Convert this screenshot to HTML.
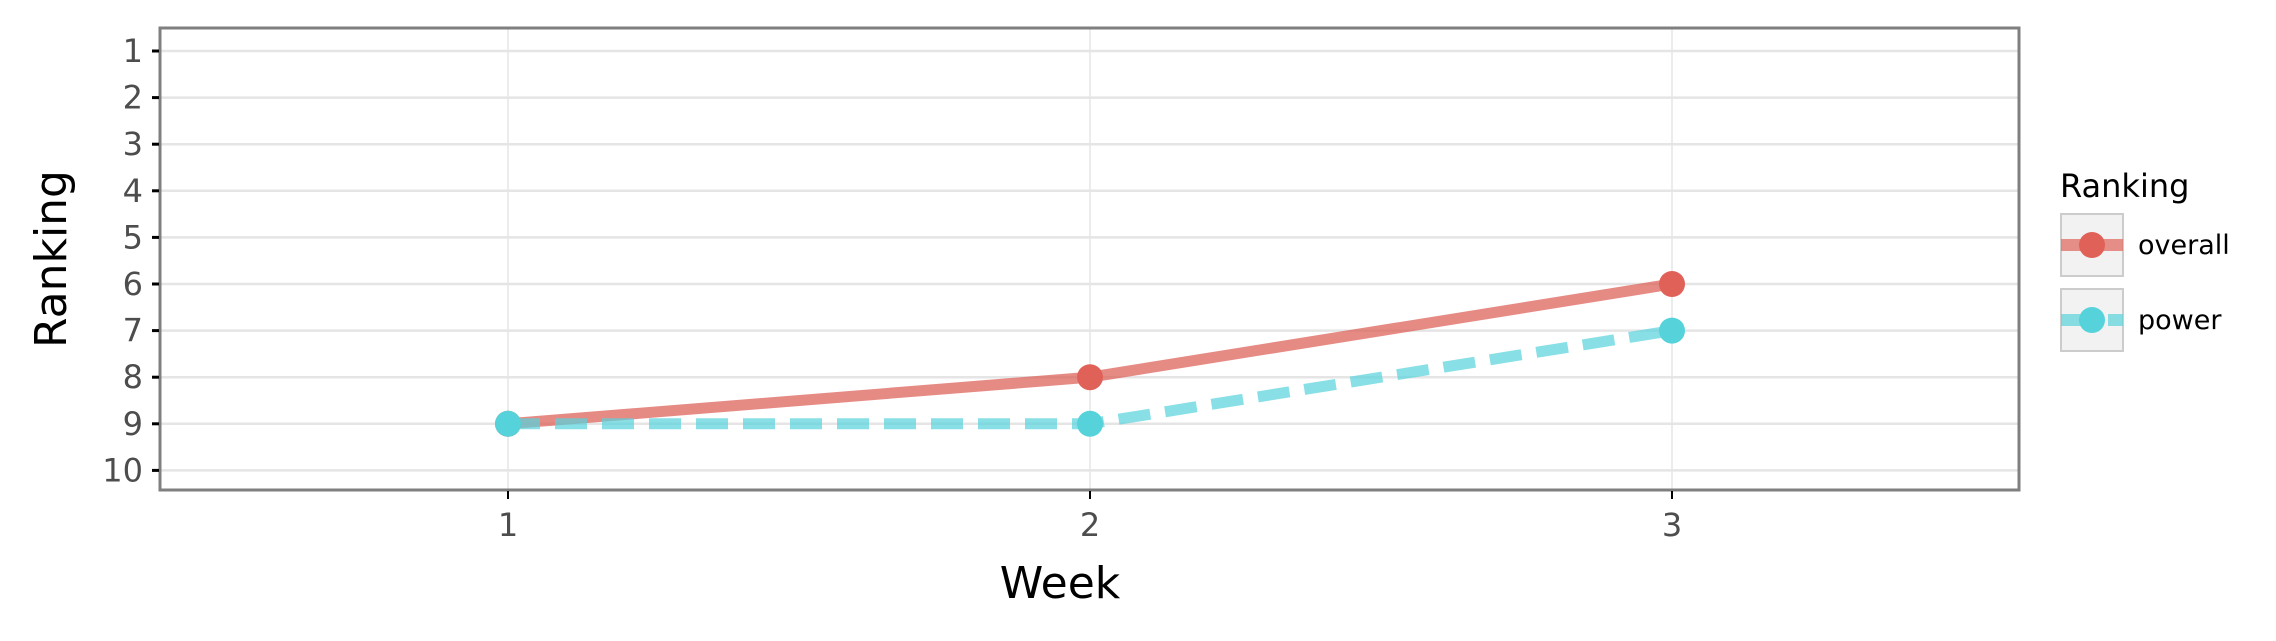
<!DOCTYPE html>
<html><head><meta charset="utf-8"><style>
html,body{margin:0;padding:0;background:#fff}
svg{display:block;font-family:"DejaVu Sans","Liberation Sans",sans-serif}
</style></head><body>
<svg id="chart" width="2276" height="641" viewBox="0 0 2276 641">
<rect width="2276" height="641" fill="#fff"/>
<g id="grid"></g>
<g id="series"></g>
<rect x="160" y="28" width="1859" height="462" fill="none" stroke="#7f7f7f" stroke-width="3"/>
<g id="axes"></g>
<text x="1060" y="598" font-size="44" text-anchor="middle" fill="#000">Week</text>
<text transform="translate(66,259) rotate(-90)" font-size="44" text-anchor="middle" fill="#000">Ranking</text>
<g>
<text x="2060" y="197" font-size="32" fill="#000">Ranking</text>
<g>
<rect x="2061" y="214" width="62" height="62" fill="#f2f2f2" stroke="#cccccc" stroke-width="2"/>
<line x1="2061" y1="245" x2="2123" y2="245" stroke="#e06c64" stroke-opacity="0.75" stroke-width="12"/>
<circle cx="2092" cy="245" r="13" fill="#e06158"/>
<text x="2138" y="254" font-size="27" fill="#000">overall</text>
</g>
<g>
<rect x="2061" y="289" width="62" height="62" fill="#f2f2f2" stroke="#cccccc" stroke-width="2"/>
<line x1="2061" y1="320" x2="2123" y2="320" stroke="#5ad3dc" stroke-opacity="0.7" stroke-width="12" stroke-dasharray="32 15"/>
<circle cx="2092" cy="320" r="13" fill="#55d2da"/>
<text x="2138" y="329" font-size="27" fill="#000">power</text>
</g>
</g>
</svg>
<script>
const weeks = [1, 2, 3];
const overall = [9, 8, 6];
const power = [9, 9, 7];
const yTicks = [1,2,3,4,5,6,7,8,9,10];

const NS = "http://www.w3.org/2000/svg";
function xs(v){ return 508 + (v - 1) * 582; }
function ys(v){ return 51 + (v - 1) * 46.6; }
function mk(tag, attrs, parent){
  const e = document.createElementNS(NS, tag);
  for (const k in attrs) e.setAttribute(k, attrs[k]);
  parent.appendChild(e);
  return e;
}
const grid = document.getElementById('grid');
const axes = document.getElementById('axes');
const series = document.getElementById('series');

yTicks.forEach(t => {
  const g = mk('line', {x1:160, x2:2019, y1:ys(t), y2:ys(t), stroke:'#e5e5e5', 'stroke-width':2.5}, grid);
  
  
  const tk = mk('line', {x1:152, x2:159, y1:ys(t), y2:ys(t), stroke:'#000', 'stroke-width':3}, axes);
  
  
  const lb = mk('text', {x:143, y:ys(t)+11, 'font-size':32, 'text-anchor':'end', fill:'#4d4d4d'}, axes);
  lb.textContent = t;
  
  
});
weeks.forEach(w => {
  const g = mk('line', {x1:xs(w), x2:xs(w), y1:28, y2:490, stroke:'#e5e5e5', 'stroke-width':1.5}, grid);
  
  
  const tk = mk('line', {x1:xs(w), x2:xs(w), y1:491, y2:499, stroke:'#000', 'stroke-width':2}, axes);
  
  
  const lb = mk('text', {x:xs(w), y:536, 'font-size':32, 'text-anchor':'middle', fill:'#4d4d4d'}, axes);
  lb.textContent = w;
  
  
});
function drawSeries(vals, color, lineColor, dash, name){
  const pts = weeks.map((w,i) => xs(w) + ',' + ys(vals[i])).join(' ');
  const attrs = {points:pts, fill:'none', stroke:lineColor, 'stroke-opacity':0.72, 'stroke-width':11};
  if (dash) attrs['stroke-dasharray'] = dash;
  const l = mk('polyline', attrs, series);
  
  
  weeks.forEach((w,i) => {
    const c = mk('circle', {cx:xs(w), cy:ys(vals[i]), r:13, fill:color}, series);
    
    
  });
}
drawSeries(overall, '#e06158', '#dc5d55', null, 'overall');
drawSeries(power, '#55d2da', '#5ad3dc', '32 15', 'power');
</script>
</body></html>
